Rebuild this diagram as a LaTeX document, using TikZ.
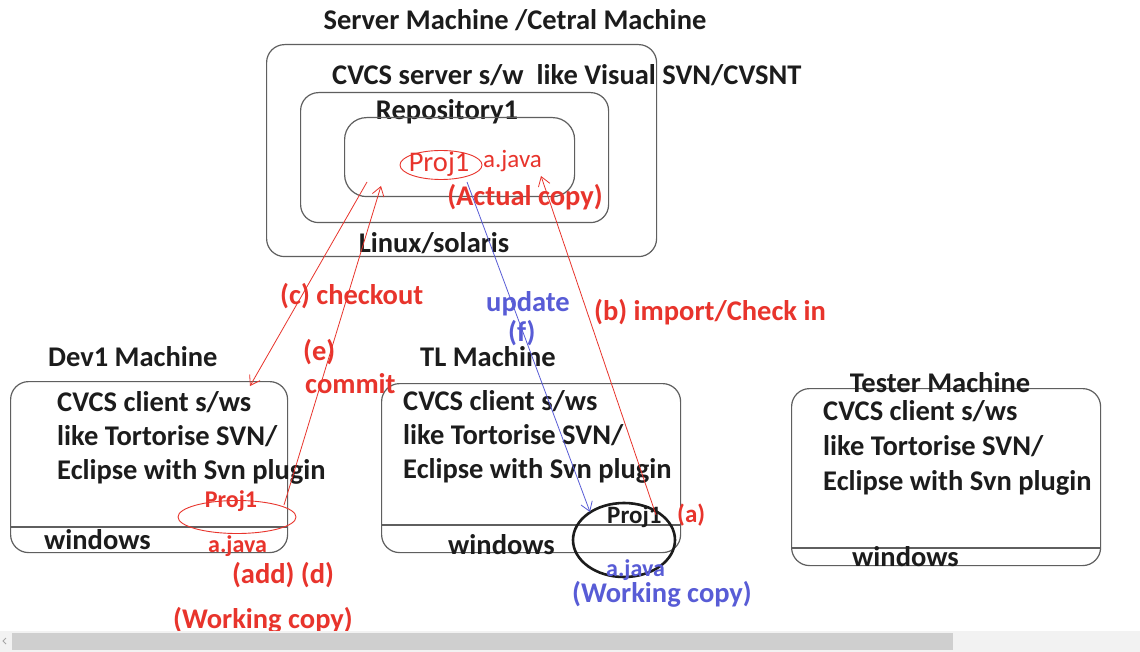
\documentclass[tikz,border=0pt]{standalone}
\usepackage{fontspec}
\setmainfont{Carlito}
\usetikzlibrary{arrows.meta,shapes.geometric}
\definecolor{ared}{RGB}{232,52,44}
\definecolor{ablue}{RGB}{88,92,214}
\definecolor{tblack}{RGB}{28,28,28}
\definecolor{lgray}{RGB}{95,95,95}
\tikzset{
  lbl/.style={font=\bfseries\fontsize{28.5}{34}\selectfont, text=tblack, inner sep=0pt},
  rlbl/.style={lbl, text=ared},
  blbl/.style={lbl, text=ablue},
  small/.style={font=\bfseries\fontsize{24}{26}\selectfont},
  machine/.style={draw=lgray, line width=1.2pt, rounded corners=18pt, anchor=north west, inner sep=0pt},
  divider/.style={draw=lgray, line width=1.2pt},
  conn/.style={line width=0.8pt, -{Straight Barb[length=9pt,width=12pt]}},
}
\begin{document}
\begin{tikzpicture}[x=1pt,y=-1pt]
\useasboundingbox (0,0) rectangle (1140,652);
\fill[white] (0,0) rectangle (1140,652);

% ---------- server ----------
\node[lbl, anchor=base] (title) at (515,30) {Server Machine /Cetral Machine};
\node[machine, minimum width=390pt, minimum height=212pt] (server) at (266,44) {};
\node[lbl, anchor=base west] (serversw) at (332,85) {CVCS server s/w\ \ like Visual SVN/CVSNT};
\node[machine, minimum width=308pt, minimum height=130pt] (repo) at (300,92) {};
\node[lbl, anchor=base] (repolbl) at (447,120) {Repository1};
\node[machine, rounded corners=22pt, minimum width=230pt, minimum height=79pt] (inner) at (344,117) {};
\node[draw=ared, line width=0.9pt, ellipse, minimum width=82pt, minimum height=29pt, inner sep=0pt] (sproj) at (441,165) {};
\node[rlbl, font=\fontsize{28.5}{34}\selectfont, anchor=base] (sprojlbl) at (439,172) {Proj1};
\node[rlbl, font=\fontsize{25}{27}\selectfont, anchor=base west] (sajava) at (483,168) {a.java};
\node[rlbl, anchor=base] (actual) at (525,206) {(Actual copy)};
\node[lbl, anchor=base] (linux) at (434,253) {Linux/solaris};

% ---------- Dev1 ----------
\node[lbl, anchor=base west] (devlbl) at (48,366) {Dev1 Machine};
\node[machine, minimum width=277pt, minimum height=171pt] (dev) at (10,381) {};
\draw[divider] (dev.west |- 0,527) -- (dev.east |- 0,527);
\node[lbl, anchor=base west] (devtxt1) at (57,411) {CVCS client s/ws};
\node[lbl, anchor=base west] (devtxt2) at (57,445) {like Tortorise SVN/};
\node[lbl, anchor=base west] (devtxt3) at (57,479) {Eclipse with Svn plugin};
\node[lbl, anchor=base west] (devwin) at (44,549) {windows};
\node[draw=ared, line width=0.9pt, ellipse, minimum width=118pt, minimum height=33pt, inner sep=0pt] (dproj) at (237,517) {};
\node[rlbl, font=\bfseries\fontsize{24}{26}\selectfont, anchor=base] (dprojlbl) at (231,507) {Proj1};
\node[rlbl, small, anchor=base west] (dajava) at (208,552) {a.java};
\node[rlbl, anchor=base] (add) at (283,583) {(add) (d)};
\node[rlbl, anchor=base west] (dwork) at (173,628) {(Working copy)};

% ---------- TL ----------
\node[lbl, anchor=base west] (tllbl) at (420,366) {TL Machine};
\node[machine, minimum width=299pt, minimum height=169pt] (tl) at (381,383) {};
\draw[divider] (tl.west |- 0,525) -- (tl.east |- 0,525);
\node[lbl, anchor=base west] (tltxt1) at (403,410) {CVCS client s/ws};
\node[lbl, anchor=base west] (tltxt2) at (403,444) {like Tortorise SVN/};
\node[lbl, anchor=base west] (tltxt3) at (403,478) {Eclipse with Svn plugin};
\node[lbl, anchor=base west] (tlwin) at (448,554) {windows};
\node[draw=tblack, line width=2.6pt, ellipse, minimum width=102pt, minimum height=74pt, inner sep=0pt] (tproj) at (624,540) {};
\node[lbl, font=\bfseries\fontsize{25}{27}\selectfont, anchor=base west] (tprojlbl) at (607,523) {Proj1};
\node[rlbl, font=\bfseries\fontsize{25}{27}\selectfont, anchor=base west] (tla) at (677,522) {(a)};
\node[blbl, small, anchor=base west] (tajava) at (606,576) {a.java};
\node[blbl, anchor=base west] (twork) at (572,602) {(Working copy)};

% ---------- Tester ----------
\node[machine, minimum width=309pt, minimum height=177pt] (tester) at (791,388) {};
\draw[divider] (tester.west |- 0,548) -- (tester.east |- 0,548);
\node[lbl, anchor=base] (testlbl) at (940,392) {Tester Machine};
\node[lbl, anchor=base west] (testtxt1) at (823,420) {CVCS client s/ws};
\node[lbl, anchor=base west] (testtxt2) at (823,455) {like Tortorise SVN/};
\node[lbl, anchor=base west] (testtxt3) at (823,490) {Eclipse with Svn plugin};
\node[lbl, anchor=base west] (testwin) at (852,566) {windows};

% ---------- connectors ----------
\coordinate (co1) at (367,182);
\coordinate (co2) at (250,386);
\coordinate (cm1) at (284,505);
\coordinate (cm2) at (381,186);
\coordinate (up1) at (467,182);
\coordinate (up2) at (590,512);
\coordinate (im1) at (656,515);
\coordinate (im2) at (541,176);
\draw[conn, ared] (co1) -- (co2);
\draw[conn, ared] (cm1) -- (cm2);
\draw[conn, ablue] (up1) -- (up2);
\draw[conn, ared] (im1) -- (im2);

\node[rlbl, anchor=base west] (checkout) at (280,304) {(c) checkout};
\node[rlbl, anchor=base west] (elbl) at (303,360) {(e)};
\node[rlbl, anchor=base west] (commit) at (305,393) {commit};
\node[blbl, anchor=base west] (update) at (486,311) {update};
\node[blbl, anchor=base west] (flbl) at (508,341) {(f)};
\node[rlbl, anchor=base west] (import) at (594,320) {(b) import/Check in};

% ---------- scrollbar ----------
\fill[gray!10] (0,631) rectangle (1140,652);
\fill[gray!38] (12,633) rectangle (953,650);
\draw[gray!70, line width=0.8pt] (6,638) -- (3,641) -- (6,644);
\end{tikzpicture}
\end{document}
